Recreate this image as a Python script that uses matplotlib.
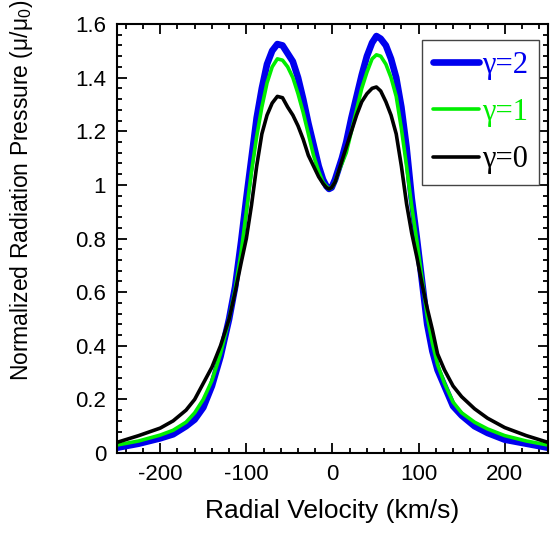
import matplotlib
matplotlib.use('Agg')
import matplotlib.pyplot as plt
from matplotlib.ticker import MultipleLocator

plt.rcParams['font.family'] = 'Liberation Sans'
plt.rcParams['axes.unicode_minus'] = False
plt.rcParams['mathtext.default'] = 'regular'

# radial velocity grid (km/s)
velocity = [-250, -225, -200, -185, -170, -160, -150, -140, -130, -120, -113, -106,
            -100, -94, -88, -82, -76, -70, -64, -58, -52, -46, -40, -34, -28, -22,
            -16, -11, -7, -4, -1, 3, 7, 11, 16, 22, 28, 34, 40, 46, 51, 56, 62, 68, 74,
            80, 86, 92, 98, 104, 110, 116, 122, 130, 140, 150, 165, 180, 200, 225, 250]

gamma2 = [0.02, 0.035, 0.055, 0.07, 0.10, 0.125, 0.17, 0.25, 0.36, 0.50, 0.62, 0.79,
          0.95, 1.10, 1.25, 1.36, 1.45, 1.50, 1.525, 1.52, 1.49, 1.46, 1.40, 1.32, 1.23, 1.15,
          1.07, 1.02, 0.995, 0.985, 0.99, 1.02, 1.06, 1.10, 1.16, 1.25, 1.33, 1.41, 1.48, 1.53, 1.555, 1.545, 1.52, 1.47, 1.40,
          1.29, 1.14, 0.95, 0.80, 0.64, 0.48, 0.38, 0.31, 0.25, 0.175, 0.14, 0.10, 0.075, 0.05, 0.035, 0.02]

gamma1 = [0.03, 0.045, 0.067, 0.085, 0.115, 0.15, 0.20, 0.27, 0.37, 0.50, 0.61, 0.75,
          0.90, 1.05, 1.18, 1.29, 1.38, 1.44, 1.47, 1.465, 1.44, 1.40, 1.34, 1.27, 1.19, 1.11,
          1.05, 1.01, 0.995, 0.985, 0.99, 1.01, 1.05, 1.08, 1.12, 1.20, 1.28, 1.36, 1.42, 1.47, 1.485, 1.48, 1.45, 1.40, 1.33,
          1.21, 1.07, 0.92, 0.79, 0.65, 0.51, 0.41, 0.33, 0.26, 0.19, 0.15, 0.115, 0.09, 0.065, 0.045, 0.03]

gamma0 = [0.04, 0.065, 0.093, 0.12, 0.16, 0.20, 0.26, 0.32, 0.40, 0.50, 0.60, 0.71,
          0.80, 0.925, 1.07, 1.19, 1.26, 1.305, 1.33, 1.325, 1.29, 1.26, 1.22, 1.17, 1.11, 1.07,
          1.03, 1.005, 0.99, 0.985, 0.99, 1.01, 1.05, 1.09, 1.14, 1.20, 1.26, 1.31, 1.34, 1.36, 1.365, 1.35, 1.31, 1.26, 1.19,
          1.07, 0.93, 0.82, 0.73, 0.63, 0.54, 0.46, 0.37, 0.31, 0.25, 0.21, 0.165, 0.13, 0.095, 0.065, 0.04]

labels = ['γ=2', 'γ=1', 'γ=0']
colors = ['#0000ee', '#00ee00', 'black']
widths = [4.8, 2.6, 2.6]

fig = plt.figure(figsize=(5.5, 5.33), dpi=100)
ax = fig.add_axes([0.213, 0.150, 0.783, 0.805])

for ys, lab, c, w in zip([gamma2, gamma1, gamma0], labels, colors, widths):
    ax.plot(velocity, ys, color=c, lw=w, label=lab,
            solid_joinstyle='round', solid_capstyle='round')

ax.set_xlim(-250, 250)
ax.set_ylim(0, 1.6)
ax.set_xticks([-200, -100, 0, 100, 200])
ax.set_yticks([0, 0.2, 0.4, 0.6, 0.8, 1, 1.2, 1.4, 1.6])
ax.set_yticklabels(['0', '0.2', '0.4', '0.6', '0.8', '1', '1.2', '1.4', '1.6'])
ax.xaxis.set_minor_locator(MultipleLocator(20))
ax.yaxis.set_minor_locator(MultipleLocator(0.04))
ax.tick_params(which='both', direction='in', top=True, right=True, labelsize=16, width=1.3)
ax.tick_params(which='major', length=7, pad=8)
ax.tick_params(which='minor', length=3.5)
for s in ax.spines.values():
    s.set_linewidth(1.5)

ax.set_xlabel('Radial Velocity (km/s)', fontsize=19, labelpad=10)
ax.set_ylabel('Normalized Radiation Pressure (μ/μ$_0$)', fontsize=16.5)
ax.yaxis.set_label_coords(-0.19, 0.613)

leg = ax.legend(loc='upper right', bbox_to_anchor=(0.979, 0.963), borderaxespad=0,
                fancybox=False, edgecolor='#444444', framealpha=1,
                handlelength=1.5, handletextpad=0.1, labelspacing=0.6,
                borderpad=0.35, prop={'family': 'Liberation Serif', 'size': 22})
leg.get_frame().set_linewidth(1.0)
for t, c in zip(leg.get_texts(), colors):
    t.set_color(c)

fig.savefig('out.png', dpi=100)
